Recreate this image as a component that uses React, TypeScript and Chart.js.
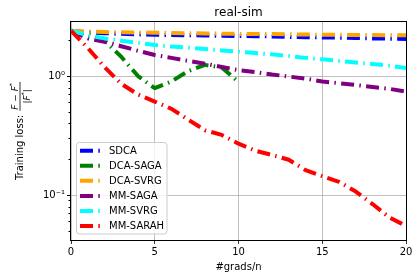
import React, { useEffect, useRef } from "react";
import { Chart, registerables } from "chart.js";

Chart.register(...registerables);

const xValues = [0, 1, 2, 3, 4, 5, 6, 7, 8, 9, 10, 11, 12, 13, 14, 15, 16, 17, 18, 19, 20];
const sdca = [2.40, 2.33, 2.29, 2.26, 2.24, 2.22, 2.21, 2.20, 2.19, 2.18, 2.17, 2.16, 2.15, 2.13, 2.12, 2.11, 2.10, 2.09, 2.07, 2.06, 2.05];
const dcaSaga = [2.40, 2.25, 1.98, 1.45, 1.0, 0.79, 0.9, 1.1, 1.24, 1.18, 0.89];
const dcaSvrg = [2.40, 2.36, 2.34, 2.33, 2.32, 2.31, 2.30, 2.29, 2.28, 2.27, 2.26, 2.25, 2.25, 2.24, 2.23, 2.22, 2.22, 2.21, 2.21, 2.20, 2.20];
const mmSaga = [2.40, 2.07, 1.94, 1.78, 1.63, 1.50, 1.42, 1.34, 1.27, 1.19, 1.12, 1.08, 1.03, 0.99, 0.95, 0.90, 0.87, 0.84, 0.81, 0.78, 0.74];
const mmSvrg = [2.40, 2.20, 2.07, 1.98, 1.90, 1.82, 1.77, 1.73, 1.69, 1.64, 1.60, 1.56, 1.52, 1.47, 1.42, 1.38, 1.34, 1.30, 1.26, 1.22, 1.17];
const mmSarah = [2.40, 1.72, 1.19, 0.86, 0.70, 0.61, 0.53, 0.43, 0.35, 0.32, 0.27, 0.236, 0.217, 0.198, 0.162, 0.144, 0.129, 0.107, 0.084, 0.065, 0.055];

const seriesNames = ["SDCA", "DCA-SAGA", "DCA-SVRG", "MM-SAGA", "MM-SVRG", "MM-SARAH"];
const seriesValues = [sdca, dcaSaga, dcaSvrg, mmSaga, mmSvrg, mmSarah];
const seriesColors = ["#0000ff", "#008000", "#ffa500", "#800080", "#00ffff", "#ff0000"];

const yTickValues = [0.05, 0.06, 0.07, 0.08, 0.09, 0.1, 0.2, 0.3, 0.4, 0.5, 0.6, 0.7, 0.8, 0.9, 1, 2];
const yMajorValues = [0.1, 1];
const yMajorLabels = ["10\u207B\u00B9", "10\u2070"];
const xTickStep = 5;

const titleText = "real-sim";
const xLabelText = "#grads/n";
const yLabelText = "Training loss:";

const FONT = "'DejaVu Sans', sans-serif";
const DASH = [13, 5.3, 1.5, 5.3];

const isMajor = (v: number) => yMajorValues.some((m) => Math.abs(m - v) < 1e-9);

const decorPlugin = {
  id: "decor",
  afterDatasetsDraw(chart: any) {
    const ctx = chart.ctx as CanvasRenderingContext2D;
    const { left, right, top, bottom } = chart.chartArea;
    const yScale = chart.scales.y;

    ctx.save();
    // frame
    ctx.strokeStyle = "#000";
    ctx.lineWidth = 1;
    ctx.setLineDash([]);
    ctx.strokeRect(left - 0.5, top - 0.5, right - left + 1, bottom - top + 1);

    // y ticks (major/minor)
    for (const v of yTickValues) {
      const y = Math.round(yScale.getPixelForValue(v)) + 0.5;
      const len = isMajor(v) ? 3.5 : 2;
      ctx.beginPath();
      ctx.moveTo(left - 0.5 - len, y);
      ctx.lineTo(left - 0.5, y);
      ctx.stroke();
    }

    // title
    ctx.fillStyle = "#000";
    ctx.font = `12px ${FONT}`;
    ctx.textAlign = "center";
    ctx.textBaseline = "alphabetic";
    ctx.fillText(titleText, (left + right) / 2, 16);

    // x label
    ctx.font = `10px ${FONT}`;
    ctx.fillText(xLabelText, (left + right) / 2, 269.5);

    // y label (rotated) with fraction
    ctx.save();
    ctx.translate(0, (top + bottom) / 2);
    ctx.rotate(-Math.PI / 2);
    ctx.textAlign = "left";
    ctx.font = `10px ${FONT}`;
    const tw = ctx.measureText(yLabelText).width;
    const fracGap = 4;
    // measure fraction
    const normal = `9px ${FONT}`;
    const italic = `italic 9px ${FONT}`;
    const small = `6.5px ${FONT}`;
    const numParts = [
      { t: "F", f: italic, dy: 0 },
      { t: " \u2212 ", f: normal, dy: 0 },
      { t: "F", f: italic, dy: 0 },
      { t: "*", f: small, dy: -4 },
    ];
    const denParts = [
      { t: "|", f: normal, dy: 0 },
      { t: "F", f: italic, dy: 0 },
      { t: "*", f: small, dy: -4 },
      { t: "|", f: normal, dy: 0 },
    ];
    const widthOf = (parts: any[]) =>
      parts.reduce((s, p) => {
        ctx.font = p.f;
        return s + ctx.measureText(p.t).width;
      }, 0);
    const nw = widthOf(numParts);
    const dw = widthOf(denParts);
    const fw = Math.max(nw, dw) + 2;
    const total = tw + fracGap + fw;
    const startX = -total / 2;
    ctx.font = `10px ${FONT}`;
    ctx.fillText(yLabelText, startX, 22.5);
    const fx = startX + tw + fracGap;
    const drawParts = (parts: any[], x0: number, base: number) => {
      let x = x0;
      for (const p of parts) {
        ctx.font = p.f;
        ctx.fillText(p.t, x, base + p.dy);
        x += ctx.measureText(p.t).width;
      }
    };
    drawParts(numParts, fx + (fw - nw) / 2, 17.5);
    drawParts(denParts, fx + (fw - dw) / 2, 29.5);
    ctx.fillRect(fx, 19.6, fw, 0.8);
    ctx.restore();

    // legend
    const lx = 76.5, ly = 142.5, lw = 90.5, lh = 91.5;
    ctx.beginPath();
    (ctx as any).roundRect(lx, ly, lw, lh, 3);
    ctx.fillStyle = "rgba(255,255,255,0.8)";
    ctx.fill();
    ctx.strokeStyle = "#cccccc";
    ctx.lineWidth = 1;
    ctx.stroke();
    ctx.font = `10px ${FONT}`;
    ctx.textAlign = "left";
    ctx.textBaseline = "middle";
    seriesNames.forEach((name, i) => {
      const y = 150.7 + i * 15.06;
      ctx.save();
      ctx.strokeStyle = seriesColors[i];
      ctx.lineWidth = 4;
      ctx.lineCap = "butt";
      ctx.setLineDash(DASH);
      ctx.beginPath();
      ctx.moveTo(80, y);
      ctx.lineTo(100, y);
      ctx.stroke();
      ctx.restore();
      ctx.fillStyle = "#000";
      ctx.fillText(name, 109, y + 0.5);
    });
    ctx.restore();
  },
};

export default function App() {
  const ref = useRef<HTMLCanvasElement | null>(null);

  useEffect(() => {
    document.body.style.margin = "0";
    const canvas = ref.current;
    if (!canvas) return;
    const datasets = seriesNames.map((name, i) => ({
      label: name,
      data: seriesValues[i].map((v, j) => ({ x: xValues[j], y: v })),
      borderColor: seriesColors[i],
      backgroundColor: seriesColors[i],
      borderWidth: 4,
      borderDash: DASH,
      borderCapStyle: "butt" as const,
      borderJoinStyle: "round" as const,
      pointRadius: 0,
      tension: 0,
      fill: false,
      order: seriesNames.length - i,
    }));
    const chart = new Chart(canvas, {
      type: "line",
      data: { datasets },
      options: {
        animation: false,
        responsive: false,
        maintainAspectRatio: false,
        layout: { padding: { top: 22, right: 13, left: 0, bottom: 0 } },
        plugins: {
          legend: { display: false },
          title: { display: false },
          tooltip: { enabled: false },
        },
        scales: {
          x: {
            type: "linear",
            min: 0,
            max: 20,
            afterFit: (s: any) => {
              s.height = 38;
            },
            ticks: {
              stepSize: xTickStep,
              font: { family: FONT, size: 10 },
              color: "#000",
              padding: 2,
              maxRotation: 0,
            },
            grid: {
              color: "#b0b0b0",
              lineWidth: 0.8,
              tickColor: "#000",
              tickLength: 4,
            },
            border: { display: false },
          },
          y: {
            type: "logarithmic",
            min: 0.0419,
            max: 2.843,
            afterFit: (s: any) => {
              s.width = 71;
            },
            afterBuildTicks: (s: any) => {
              s.ticks = yTickValues.map((v) => ({ value: v }));
            },
            ticks: {
              autoSkip: false,
              font: { family: FONT, size: 10 },
              color: "#000",
              padding: 2,
              callback: (value: any) => {
                const idx = yMajorValues.findIndex((m) => Math.abs(m - Number(value)) < 1e-9);
                return idx >= 0 ? yMajorLabels[idx] : "";
              },
            },
            grid: {
              color: (c: any) => (c.tick && isMajor(c.tick.value) ? "#b0b0b0" : "rgba(0,0,0,0)"),
              lineWidth: 0.8,
              tickColor: "rgba(0,0,0,0)",
              tickLength: 4,
            },
            border: { display: false },
          },
        },
      },
      plugins: [decorPlugin],
    } as any);
    return () => chart.destroy();
  }, []);

  return (
    <canvas
      ref={ref}
      width={419}
      height={278}
      style={{ display: "block", width: "419px", height: "278px" }}
    />
  );
}
